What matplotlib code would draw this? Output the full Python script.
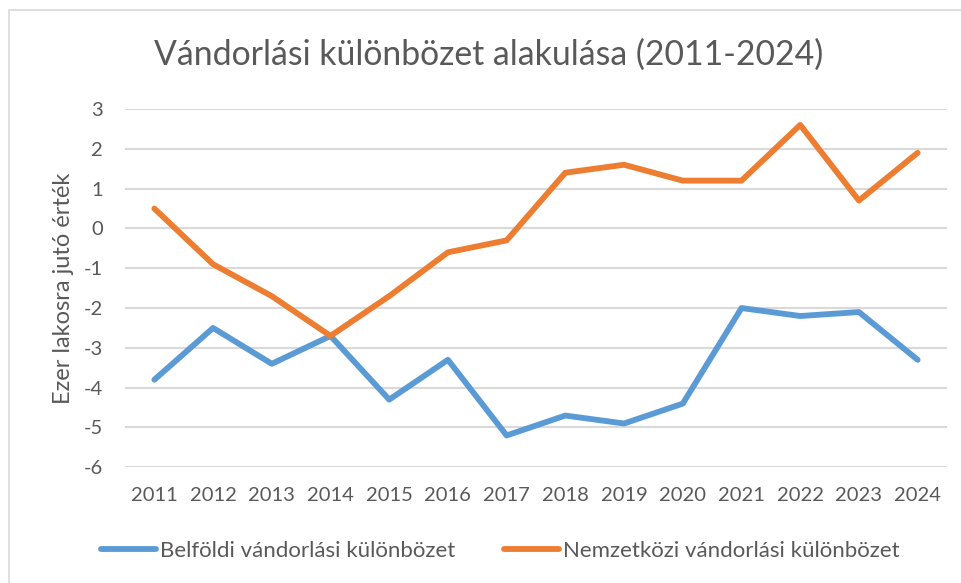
import matplotlib
matplotlib.use('Agg')
import matplotlib.pyplot as plt
import numpy as np

plt.rcParams['font.family'] = ['Lato', 'DejaVu Sans']

years = ['2011', '2012', '2013', '2014', '2015', '2016', '2017',
         '2018', '2019', '2020', '2021', '2022', '2023', '2024']
belfoldi = [-3.8, -2.5, -3.4, -2.7, -4.3, -3.3, -5.2,
            -4.7, -4.9, -4.4, -2.0, -2.2, -2.1, -3.3]
nemzetkozi = [0.5, -0.9, -1.7, -2.7, -1.7, -0.6, -0.3,
              1.4, 1.6, 1.2, 1.2, 2.6, 0.7, 1.9]
y_ticks = [3, 2, 1, 0, -1, -2, -3, -4, -5, -6]

text_col = '#595959'
W, H = 961, 583
fig = plt.figure(figsize=(W / 100, H / 100), dpi=100)

# chart border (Excel chart area), runs off the right/bottom edge
fig.patches.append(plt.Rectangle((9 / W, -0.1), 1.1, 1 - 10 / H + 0.1,
                                 transform=fig.transFigure, fill=False,
                                 edgecolor='#D9D9D9', linewidth=1.2))

ax = fig.add_axes([125 / W, 1 - 467.3 / H, (947 - 125) / W, (467.3 - 109) / H])
x = np.arange(len(years))
ax.plot(x, belfoldi, color='#5B9BD5', lw=4.2, solid_joinstyle='round',
        solid_capstyle='round', label='Belföldi vándorlási különbözet')
ax.plot(x, nemzetkozi, color='#ED7D31', lw=4.2, solid_joinstyle='round',
        solid_capstyle='round', label='Nemzetközi vándorlási különbözet')

ax.set_xlim(-0.5, len(years) - 0.5)
ax.set_ylim(-6, 3)
ax.set_yticks(y_ticks)
ax.set_yticklabels([str(v) for v in y_ticks])
ax.set_xticks(x)
ax.set_xticklabels(years)
ax.grid(axis='y', color='#D9D9D9', lw=1.5)
ax.set_axisbelow(True)
for s in ax.spines.values():
    s.set_visible(False)
ax.tick_params(length=0, labelsize=14.5, colors=text_col)
ax.tick_params(axis='x', pad=14)
ax.tick_params(axis='y', pad=16)

ax.set_ylabel('Ezer lakosra jutó érték', fontsize=17, color=text_col, labelpad=7)
fig.text(489 / W, 1 - 55 / H, 'Vándorlási különbözet alakulása (2011-2024)',
         ha='center', va='center', fontsize=24.3, color=text_col)

leg = fig.legend(loc='center', bbox_to_anchor=(500 / W, 1 - 551 / H), ncol=2,
                 frameon=False, fontsize=16, handlelength=2.5, handletextpad=0.15,
                 columnspacing=2.2)
for t in leg.get_texts():
    t.set_color(text_col)

fig.savefig('out.png', dpi=100)
